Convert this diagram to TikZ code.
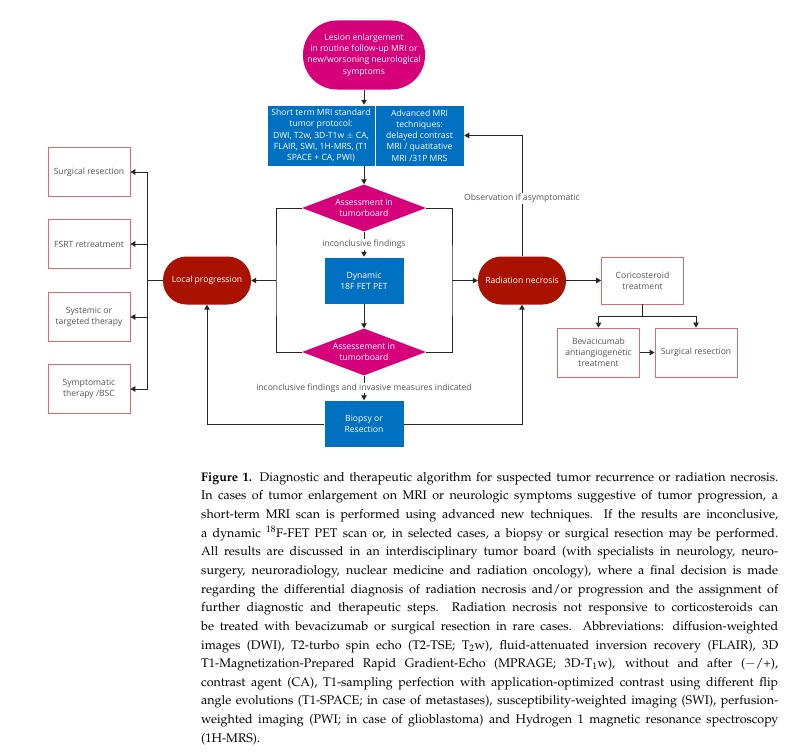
\documentclass[tikz,border=0pt]{standalone}
\usepackage{fontspec}
\usepackage[T1]{fontenc}
\usepackage{mathpazo}
\usetikzlibrary{shapes.geometric,arrows.meta}
\newfontfamily\diagfont{Open Sans}
\definecolor{pinkbox}{HTML}{D6007B}
\definecolor{bluebox}{HTML}{0070C0}
\definecolor{redbox}{HTML}{A91200}
\definecolor{edgered}{HTML}{DE6B6B}
\definecolor{greytext}{HTML}{555555}
\begin{document}
\begin{tikzpicture}[x=1pt,y=-1pt,
  font=\diagfont\fontsize{8.6}{11.2}\selectfont,
  >={Triangle[length=5pt,width=5.5pt]},
  line/.style={draw=black!85,line width=1pt},
  pinkoval/.style={fill=pinkbox,text=white,align=center,rounded corners=34pt,
    minimum width=122pt,minimum height=69pt,inner sep=0pt},
  mribox/.style={fill=bluebox,draw=white,line width=0.5pt,text=white,align=center,inner sep=0pt},
  pinkdiamond/.style={diamond,aspect=2.6,fill=pinkbox,text=white,align=center,
    minimum width=124pt,minimum height=47pt,inner sep=0pt},
  redpill/.style={fill=redbox,text=white,rounded corners=23.5pt,
    minimum width=88pt,minimum height=48pt,inner sep=0pt},
  treatbox/.style={draw=edgered,line width=0.8pt,fill=white,text=greytext,align=center,
    minimum width=82pt,minimum height=49pt,inner sep=0pt},
  note/.style={fill=white,text=greytext,inner sep=1pt}]
\fill[white] (0,0) rectangle (789,752);
\useasboundingbox (0,0) rectangle (789,752);

% central column
\node[pinkoval] (lesion) at (364,55) {Lesion enlargement\\in routine follow-up MRI or\\new/worsoning neurological\\symptoms};
\node[mribox,minimum width=108pt,minimum height=61pt] (mri) at (321,135.5)
  {Short term MRI standard\\tumor protocol:\\DWI, T2w, 3D-T1w $\pm$ CA,\\FLAIR, SWI, 1H-MRS, (T1\\SPACE + CA, PWI)};
\node[mribox,minimum width=89pt,minimum height=61pt] (adv) at (419.5,135.5)
  {Advanced MRI\\techniques:\\delayed contrast\\MRI / quatitative\\MRI /31P MRS};
\node[pinkdiamond] (board1) at (364,208) {Assessment in\\tumorboard};
\node[mribox,minimum width=80pt,minimum height=47pt] (pet) at (364,280.5) {Dynamic\\18F FET PET};
\node[pinkdiamond] (board2) at (364,352) {Assessement in\\tumorboard};
\node[mribox,minimum width=80pt,minimum height=47pt] (biopsy) at (364,424) {Biopsy or\\Resection};

% outcomes
\node[redpill] (local) at (207,280.5) {Local progression};
\node[redpill] (necrosis) at (522,280.5) {Radiation necrosis};

\node[treatbox] (surg) at (89,172) {Surgical resection};
\node[treatbox] (fsrt) at (89,244) {FSRT retreatment};
\node[treatbox] (sys) at (89,317) {Systemic or\\targeted therapy};
\node[treatbox] (symp) at (89,389) {Symptomatic\\therapy /BSC};

\node[treatbox,minimum height=47pt] (cortico) at (642.5,280.5) {Coricosteroid\\treatment};
\node[treatbox] (beva) at (598.5,352.5) {Bevacicumab\\antiangiogenetic\\treatment};
\node[treatbox] (surgtwo) at (696,352.5) {Surgical resection};

\coordinate (lbus) at (276,280.5);
\coordinate (rbus) at (452,280.5);
\coordinate (lprog) at (147,280.5);

% connectors
\draw[line,->] (lesion) -- (lesion |- mri.north);
\draw[line,->] (board1 |- mri.south) -- (board1);
\draw[line,->] (board1) -- node[note]{inconclusive findings} (pet);
\draw[line,->] (pet) -- (board2);
\draw[line,->] (board2) -- node[note]{inconclusive findings and invasive measures indicated} (biopsy);

\draw[line] (board1.west) -| (lbus) |- (board2.west);
\draw[line] (board1.east) -| (rbus) |- (board2.east);
\draw[line,->] (lbus) -- (local);
\draw[line,->] (rbus) -- (necrosis);
\draw[line,->] (biopsy) -| (local);
\draw[line,->] (biopsy) -| (necrosis);
\draw[line,->] (necrosis) |- node[note,pos=0.24]{Observation if asymptomatic} (adv);

\draw[line] (local) -- (lprog);
\foreach \t in {surg,fsrt,sys,symp}
  \draw[line,->] (lprog) |- (\t);

\draw[line,->] (necrosis) -- (cortico);
\draw[line,->] (cortico.south) -- ++(0,12) -| (beva.north);
\draw[line,->] (cortico.south) -- ++(0,12) -| (surgtwo.north);
\draw[line,->,line width=1.6pt] (beva) -- (surgtwo);

% caption
\node[anchor=north west,inner sep=0pt,text width=577pt,align=justify,
  font=\fontencoding{T1}\fontfamily{pplx}\fontsize{12.5}{18.64}\selectfont] (caption) at (201,472)
{\textbf{Figure 1.} Diagnostic and therapeutic algorithm for suspected tumor recurrence or radiation necrosis.\linebreak
In cases of tumor enlargement on MRI or neurologic symptoms suggestive of tumor progression, a\linebreak
short-term MRI scan is performed using advanced new techniques. If the results are inconclusive,\linebreak
a dynamic $^{18}$F-FET PET scan or, in selected cases, a biopsy or surgical resection may be performed.\linebreak
All results are discussed in an interdisciplinary tumor board (with specialists in neurology, neuro-\linebreak
surgery, neuroradiology, nuclear medicine and radiation oncology), where a final decision is made\linebreak
regarding the differential diagnosis of radiation necrosis and/or progression and the assignment of\linebreak
further diagnostic and therapeutic steps. Radiation necrosis not responsive to corticosteroids can\linebreak
be treated with bevacizumab or surgical resection in rare cases. Abbreviations: diffusion-weighted\linebreak
images (DWI), T2-turbo spin echo (T2-TSE; T$_2$w), fluid-attenuated inversion recovery (FLAIR), 3D\linebreak
T1-Magnetization-Prepared Rapid Gradient-Echo (MPRAGE; 3D-T$_1$w), without and after ($-$/+),\linebreak
contrast agent (CA), T1-sampling perfection with application-optimized contrast using different flip\linebreak
angle evolutions (T1-SPACE; in case of metastases), susceptibility-weighted imaging (SWI), perfusion-\linebreak
weighted imaging (PWI; in case of glioblastoma) and Hydrogen 1 magnetic resonance spectroscopy\linebreak
(1H-MRS).};
\end{tikzpicture}
\end{document}
